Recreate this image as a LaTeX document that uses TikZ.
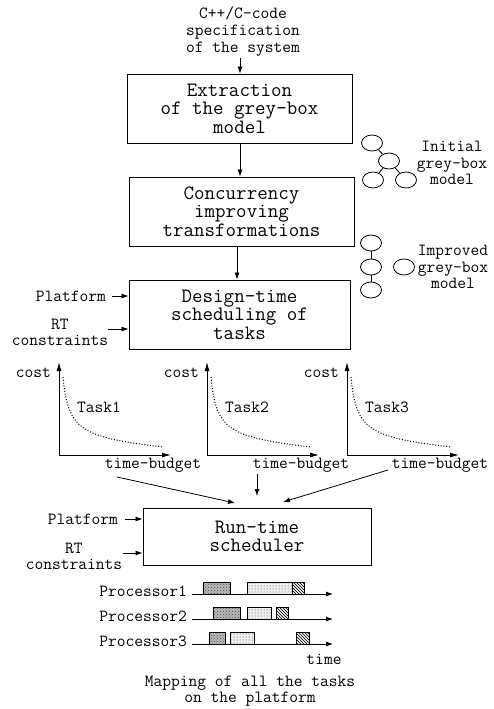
\documentclass[tikz,border=0pt]{standalone}
\usetikzlibrary{arrows.meta,patterns,shapes.geometric}

\begin{document}
\begin{tikzpicture}[x=1pt,y=-1pt,
  big/.style={font=\ttfamily\fontsize{20.4}{18.5}\selectfont},
  small/.style={font=\ttfamily\fontsize{17}{16.7}\selectfont, inner sep=0pt, align=center},
  stage/.style={draw, line width=0.9pt, big, align=center, inner sep=0pt},
  arr/.style={-{Latex[length=7pt,width=5pt]}, line width=0.8pt},
  axis/.style={-{Latex[length=9pt,width=5pt]}, line width=1pt},
  blob/.style={draw, ellipse, minimum width=21pt, minimum height=16pt, inner sep=0pt, line width=0.8pt},
  curve/.style={line width=1pt, dash pattern=on 1pt off 1.8pt},
  slotA/.style={draw, line width=0.7pt, preaction={fill=gray!55}, pattern=crosshatch dots, pattern color=black!70},
  slotB/.style={draw, line width=0.7pt, preaction={fill=gray!12}, pattern=dots, pattern color=black!80},
  slotC/.style={draw, line width=0.7pt, preaction={fill=gray!15}, pattern=north west lines, pattern color=black}]

\useasboundingbox (0,0) rectangle (493,709);

% ---------- design-time flow ----------
\node[small] (spec) at (243,31.5) {C++/C-code\\specification\\of the system};
\node[stage, minimum width=225pt, minimum height=69pt] (extract) at (239.5,108.5)
  {Extraction\\of the grey-box\\model};
\node[stage, minimum width=225pt, minimum height=69pt] (concur) at (241.5,211.5)
  {Concurrency\\improving\\transformations};
\node[stage, minimum width=221pt, minimum height=69pt] (design) at (239.5,314.5)
  {Design-time\\scheduling of\\tasks};

\coordinate (a1) at (240,58);
\draw[arr] (a1) -- (a1 |- extract.north);
\coordinate (a2) at (240,143);
\draw[arr] (a2 |- extract.south) -- (a2 |- concur.north);
\coordinate (a3) at (237,246);
\draw[arr] (a3 |- concur.south) -- (a3 |- design.north);

\node[small, anchor=east] (plat1) at (106,296) {Platform};
\coordinate (p1s) at (112,296);
\draw[arr] (p1s) -- (p1s -| design.west);
\node[small] (rt1) at (60,332.5) {RT\\constraints};
\coordinate (r1s) at (108,329);
\draw[arr] (r1s) -- (r1s -| design.west);

% ---------- grey-box model icons ----------
\node[blob] (i1) at (372,143) {};
\node[blob] (i2) at (389,161) {};
\node[blob] (i3) at (373,180) {};
\node[blob] (i4) at (406,180) {};
\draw[line width=0.8pt] (i1) -- (i2) (i2) -- (i3) (i2) -- (i4);
\node[small] (initlbl) at (452,163) {Initial\\grey-box\\model};

\node[blob] (m1) at (371,243) {};
\node[blob] (m2) at (371,267) {};
\node[blob] (m3) at (371,290) {};
\node[blob] (m4) at (404,267) {};
\draw[line width=0.8pt] (m1) -- (m2) (m2) -- (m3);
\node[small] (improvlbl) at (453,267) {Improved\\grey-box\\model};

% ---------- cost / time-budget curves ----------
\foreach \ox/\n in {59/1,207/2,347/3}{
  \coordinate (o\n) at (\ox,455);
  \draw[axis] (o\n) -- ++(0,-93);
  \draw[axis] (o\n) -- ++(112,0);
  \draw[curve] ([shift={(4,-78)}]o\n) .. controls ([shift={(9,-25)}]o\n)
     and ([shift={(21,-18)}]o\n) .. ([shift={(104,-8)}]o\n);
  \node[small, anchor=east] (cost\n) at ([shift={(-8,-82)}]o\n) {cost};
  \node[small] (task\n) at ([shift={(40,-48)}]o\n) {Task\n};
}
\node[small] (tb1) at (153,465) {time-budget};
\node[small] (tb2) at (301,465) {time-budget};
\node[small] (tb3) at (440,465) {time-budget};

% ---------- run-time stage ----------
\node[stage, minimum width=228pt, minimum height=57pt] (runtime) at (257,536.5)
  {Run-time\\scheduler};

\coordinate (e1) at (235,503);
\coordinate (e2) at (257,496);
\coordinate (e3) at (283,502);
\draw[arr] (117,477) -- (e1);
\draw[arr] (257,474) -- (e2);
\draw[arr] (388,470) -- (e3);

\node[small, anchor=east] (plat2) at (118,519) {Platform};
\coordinate (p2s) at (125,519);
\draw[arr] (p2s) -- (p2s -| runtime.west);
\node[small] (rt2) at (74,556.5) {RT\\constraints};
\coordinate (r2s) at (123,553);
\draw[arr] (r2s) -- (r2s -| runtime.west);

% ---------- processor time lines ----------
\foreach \yy/\n in {594/1,619/2,644/3}{
  \node[small, anchor=east] (proc\n) at (187,\yy-3) {Processor\n};
  \coordinate (ls\n) at (192,\yy);
  \draw[arr] (ls\n) -- ++(141,0);
}
\draw[slotA] (203,582) rectangle (230,594);
\draw[slotB] (247,582) rectangle (292,594);
\draw[slotC] (292,582) rectangle (304,594);

\draw[slotA] (213,607) rectangle (240,619);
\draw[slotB] (247,607) rectangle (271,619);
\draw[slotC] (276,607) rectangle (288,619);

\draw[slotA] (209,632) rectangle (225,644);
\draw[slotB] (230,632) rectangle (254,644);
\draw[slotC] (296,632) rectangle (309,644);

\node[small] (timelbl) at (324,659) {time};
\node[small] (mapping) at (250,691) {Mapping of all the tasks\\on the platform};

\end{tikzpicture}
\end{document}
